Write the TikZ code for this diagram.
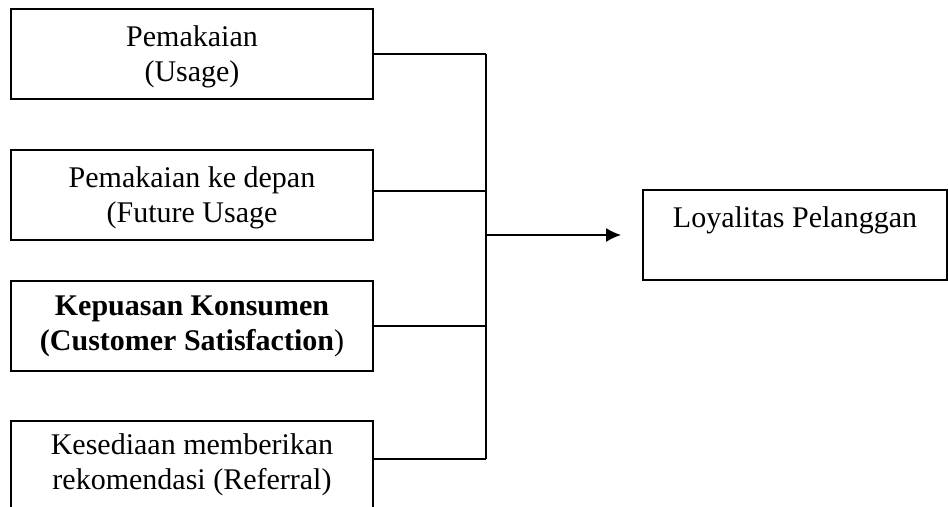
\documentclass[tikz,border=0pt,12pt]{standalone}
\usepackage{fontspec}
\setmainfont{Liberation Serif}
\usepackage{tikz}
\usetikzlibrary{%
    arrows.meta,
    positioning
}

\begin{document}
\begin{tikzpicture}[x=0.5pt, y=-0.5pt, node distance=24.6pt,
                factor/.style={rectangle, draw, line width=0.9pt, minimum width=181pt, minimum height=45pt, inner sep=0pt, text height=31pt, text depth=3pt, text centered, align=center, font=\fontsize{15}{17.5}\selectfont},
                target/.style={rectangle, draw, line width=0.9pt, minimum width=152pt, minimum height=45pt, inner sep=0pt, text height=31pt, text depth=3pt, text centered, align=center, font=\fontsize{15}{17.5}\selectfont},
                flow/.style={draw, line width=0.9pt},
                arrow/.style={draw, line width=0.9pt, -{Latex[length=7.5pt,width=7pt]}}
            ]

            \useasboundingbox (0,0) rectangle (948,507);

            \node (usage) [factor] at (192,54) {Pemakaian\\(Usage)};
            \node (future) [factor, below=of usage] {Pemakaian ke depan\\(Future Usage};
            \node (satis) [factor, text height=27.5pt, below=19.6pt of future] {\textbf{Kepuasan Konsumen}\\\textbf{(Customer Satisfaction})};
            \node (refer) [factor, text height=27pt, below=24pt of satis] {Kesediaan memberikan\\rekomendasi (Referral)};

            \node (loyal) [target] at (795,235) {Loyalitas Pelanggan\\\mbox{}};

            \coordinate (bus) at (486,235);

            \draw [flow] (usage.east) -- (usage.east -| bus);
            \draw [flow] ([yshift=2pt]future.east) -- ([yshift=2pt]future.east -| bus);
            \draw [flow] (satis.east) -- (satis.east -| bus);
            \draw [flow] ([yshift=3.5pt]refer.east) -- ([yshift=3.5pt]refer.east -| bus);
            \draw [flow] (usage.east -| bus) -- ([yshift=3.5pt]refer.east -| bus);
            \draw [arrow, shorten >=10.5pt] (bus) -- (loyal.west);
        \end{tikzpicture}
\end{document}
